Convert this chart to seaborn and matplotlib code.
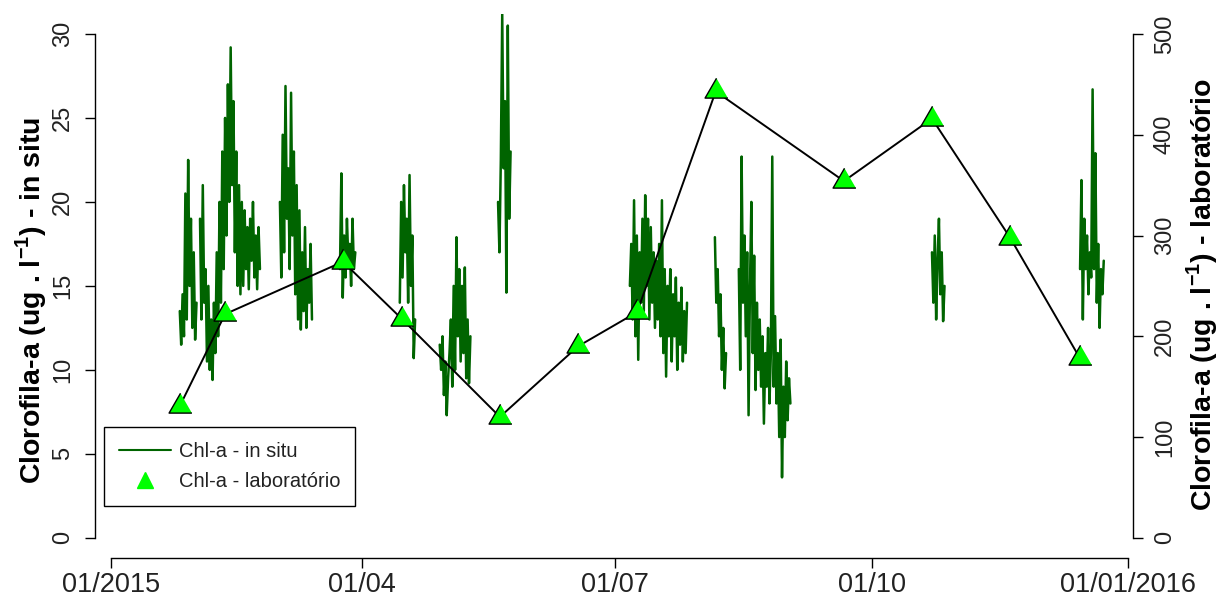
import numpy as np
import pandas as pd
import matplotlib
matplotlib.use("Agg")
import matplotlib.pyplot as plt
import matplotlib.dates as mdates
from matplotlib.lines import Line2D
import seaborn as sns

sns.set_theme(style="white")
plt.rcParams["font.family"] = ["Liberation Sans", "DejaVu Sans"]
plt.rcParams["mathtext.fontset"] = "custom"
plt.rcParams["mathtext.rm"] = "Liberation Sans"
plt.rcParams["mathtext.bf"] = "Liberation Sans:bold"

# ---- Chl-a in situ (sonda): trechos contínuos, leituras a cada 12 h ----
trecho_inicio = [
    "2015-01-25 18:00", "2015-02-02 00:00", "2015-03-02 16:00", "2015-03-24 05:00",
    "2015-04-14 16:00", "2015-04-29 00:00", "2015-05-19 22:00", "2015-07-06 05:00",
    "2015-08-05 17:00", "2015-08-14 07:00", "2015-10-22 14:00", "2015-12-14 17:00",
]
trecho_a = [13.5, 11.5, 14.5, 12, 20.5, 13, 22.5, 15, 19, 12.5, 17, 11.8, 14]
trecho_b = [19, 13, 21, 14, 16, 10.5, 15, 10, 13, 9.4, 14, 11, 17, 12, 20, 14, 23, 16,
            25, 18, 27, 20, 29.2, 21, 26, 17, 23, 15, 21, 14.5, 20, 15,
            19.5, 16, 18.5, 14.8, 19, 16.5, 20, 15.5, 18, 14.8, 18.5, 16]
trecho_c = [20, 15.5, 24, 17, 26.9, 19, 22, 16, 26.5, 18, 23, 14.5, 21, 13, 19.5, 12.4,
            17, 13.5, 18.5, 12.5, 16, 14, 17.5, 13]
trecho_d = [16, 21.7, 14.3, 18, 15.5, 19, 16.5, 17.5, 15, 19, 16, 17]
trecho_e = [14, 20, 15.5, 21, 17, 19, 14, 21.6, 15, 18, 10.7, 13]
trecho_f = [11.5, 10, 12, 8.5, 10.5, 7.3, 9.5, 11, 13, 9, 15, 10, 17.9, 12, 16, 10.5,
            15, 11, 16.1, 9.5, 13, 9.2, 12]
trecho_g = [20, 17, 22.5, 31.2, 22, 26, 14.6, 30.5, 19, 23]
trecho_h = [15, 17.5, 13, 20.1, 12, 18, 10.6, 17, 14, 19, 13.5, 20.4, 15, 19, 13, 18.5,
            14, 17, 12.5, 16.5, 13, 17.5, 12, 20.1, 11, 16, 9.6, 15, 12, 16, 10.5, 14.5,
            12, 15.5, 10, 14, 11.5, 14.9, 10.5, 13.5, 11, 14]
trecho_i = [17.9, 14, 16, 12, 14.5, 10, 12.5, 8.9, 11]
trecho_j = [16, 10, 22.7, 14, 18, 12, 17, 7.3, 15, 20, 11, 16.8, 8.8, 14, 10, 13, 9, 12,
            6.8, 11, 9, 12.5, 8, 11, 22.7, 9, 13.2, 8, 11, 6, 11.8, 3.6, 9, 6, 10.5, 7,
            9.5, 8]
trecho_k = [17, 14, 18, 13, 16.5, 19, 14.5, 17, 12.9, 15]
trecho_l = [16, 21.3, 13, 19, 16, 18, 14.5, 17, 15.5, 26.7, 16, 22.9, 14, 17.5, 12.5,
            16, 14.5, 16.5]
trechos = [trecho_a, trecho_b, trecho_c, trecho_d, trecho_e, trecho_f,
           trecho_g, trecho_h, trecho_i, trecho_j, trecho_k, trecho_l]

# ---- Chl-a laboratório (coletas pontuais) ----
lab_datas = ["2015-01-25 19:00", "2015-02-11 00:00", "2015-03-25 07:00", "2015-04-15 12:00",
             "2015-05-20 14:00", "2015-06-17 14:00", "2015-07-08 19:00", "2015-08-06 00:00",
             "2015-09-21 00:00", "2015-10-22 14:00", "2015-11-19 14:00", "2015-12-14 17:00"]
lab_valores = [131, 222, 274, 217, 120, 190, 224, 443, 354, 416, 298, 178]

# ---- eixo x ----
x_ticks = ["2015-01-01", "2015-04-01", "2015-07-01", "2015-10-01", "2016-01-01"]
x_rotulos = ["01/2015", "01/04", "01/07", "01/10", "01/01/2016"]

# montagem das tabelas
partes = []
for k, (ini, vals) in enumerate(zip(trecho_inicio, trechos)):
    t = pd.date_range(ini, periods=len(vals), freq="12h")
    partes.append(pd.DataFrame({"data": t, "chl": vals, "trecho": k}))
insitu = pd.concat(partes, ignore_index=True)
lab = pd.DataFrame({"data": pd.to_datetime(lab_datas), "chl": lab_valores})

W, H = 1225, 601
fig = plt.figure(figsize=(W / 100, H / 100), dpi=100)
ax = fig.add_axes([95 / W, (H - 558) / H, (1133 - 95) / W, (558 - 13.8) / H])
ax.set_facecolor("none")

verde_escuro = "#006400"
verde_claro = "#00FF00"
cor_texto = "#222222"

sns.lineplot(data=insitu, x="data", y="chl", units="trecho", estimator=None,
             color=verde_escuro, lw=1.8, ax=ax, legend=False)

ax2 = ax.twinx()
sns.lineplot(data=lab, x="data", y="chl", color="black", lw=1.4, ax=ax2,
             legend=False, zorder=3)
# triângulo com o centro no baricentro
tri = [(0, 1), (-0.866, -0.5), (0.866, -0.5)]
sns.scatterplot(data=lab, x="data", y="chl", marker=tri, s=19 ** 2,
                color=verde_claro, edgecolor="black", linewidth=1.0, ax=ax2,
                legend=False, zorder=4)

t0 = mdates.date2num(pd.Timestamp("2015-01-01"))
t1 = mdates.date2num(pd.Timestamp("2016-01-01"))
ax.set_xlim(t0 - 5.67, t0 + 366.7)
ax2.set_xlim(t0 - 5.67, t0 + 366.7)
ax.set_ylim(-1.2, 31.2)
ax2.set_ylim(-20, 520)

# eixos no estilo separado
for s in ["top", "right"]:
    ax.spines[s].set_visible(False)
for s in ["top", "left", "bottom"]:
    ax2.spines[s].set_visible(False)
for s, a in [("left", ax), ("bottom", ax), ("right", ax2)]:
    a.spines[s].set_color("black")
    a.spines[s].set_linewidth(1.0)
ax.spines["left"].set_bounds(0, 30)
ax.spines["bottom"].set_bounds(t0, t1)
ax2.spines["right"].set_bounds(0, 500)

ax.set_xticks(mdates.date2num(pd.to_datetime(x_ticks)))
ax.set_xticklabels(x_rotulos)
ax.set_yticks(np.arange(0, 31, 5))
ax2.set_yticks(np.arange(0, 501, 100))
ax.tick_params(axis="x", direction="out", length=7, width=1, color="black",
               labelsize=19.5, labelcolor=cor_texto, pad=3, bottom=True)
ax.tick_params(axis="y", direction="out", length=7, width=1, color="black",
               labelsize=17, labelcolor=cor_texto, pad=8, left=True, labelrotation=90)
ax2.tick_params(axis="y", direction="out", length=7, width=1, color="black",
                labelsize=17, labelcolor=cor_texto, pad=8, right=True, labelrotation=90)
for lbl in ax.get_yticklabels() + ax2.get_yticklabels():
    lbl.set_va("center")
ax.set_xlabel("")
ax.set_ylabel("")
ax2.set_ylabel("")
ax.grid(False)
ax2.grid(False)

fig.text(31 / W, 1 - 300 / H, r"Clorofila-a (ug . l$^{\mathbf{-1}}$) - in situ",
         rotation=90, ha="center", va="center", fontsize=20.5, fontweight="bold",
         color="black")
fig.text(1202 / W, 1 - 294 / H, r"Clorofila-a (ug . l$^{\mathbf{-1}}$) - laboratório",
         rotation=90, ha="center", va="center", fontsize=20.5, fontweight="bold",
         color="black")

handles = [Line2D([], [], color=verde_escuro, lw=1.5),
           Line2D([], [], marker="^", ls="none", markerfacecolor=verde_claro,
                  markeredgecolor=verde_claro, markersize=12)]
leg = ax2.legend(handles, ["Chl-a - in situ", "Chl-a - laboratório"],
                 loc="lower left", bbox_to_anchor=(104 / W, 1 - 506 / H),
                 bbox_transform=fig.transFigure, borderaxespad=0, fontsize=14.5,
                 frameon=True, fancybox=False, framealpha=1, edgecolor="black",
                 handlelength=2.6, handletextpad=0.35, borderpad=0.75,
                 labelspacing=0.55)
leg.get_frame().set_linewidth(1.0)
for t in leg.get_texts():
    t.set_color(cor_texto)

fig.savefig("out.png", dpi=100, facecolor="white")
